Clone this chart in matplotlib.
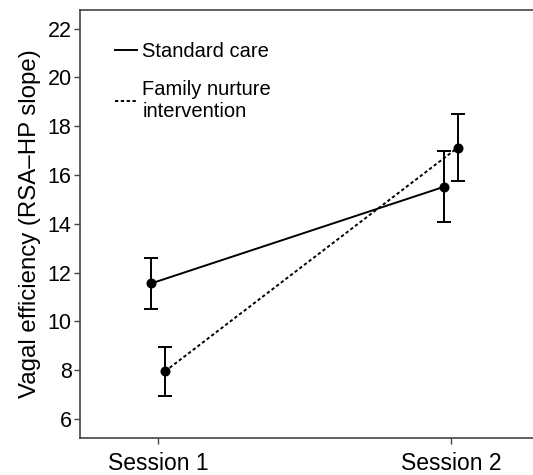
import matplotlib
matplotlib.use("Agg")
import matplotlib.pyplot as plt
from matplotlib.lines import Line2D

plt.rcParams['font.family'] = ['Liberation Sans', 'DejaVu Sans']

sessions = ["Session 1", "Session 2"]
standard_mean = [11.55, 15.51]
standard_err = [1.05, 1.46]
family_mean = [7.95, 17.12]
family_err = [1.0, 1.38]
yticks = [6, 8, 10, 12, 14, 16, 18, 20, 22]

fig = plt.figure(figsize=(5.33, 4.75), dpi=100)
ax = fig.add_axes([0.150, 0.077, 0.855, 0.903])

x = [1, 2]
off = 0.024
xs = [v - off for v in x]
xf = [v + off for v in x]

lw = 1.4
dash = (0, (1.7, 1.3))
ax.errorbar(xs, standard_mean, yerr=standard_err, color='black', lw=lw, ls='-',
            marker='o', ms=6.2, capsize=5, capthick=lw, elinewidth=lw, zorder=3)
ax.errorbar(xf, family_mean, yerr=family_err, color='black', lw=lw, ls=dash,
            marker='o', ms=6.2, capsize=5, capthick=lw, elinewidth=lw, zorder=3)

ax.set_xlim(0.7335, 2.290)
ax.set_ylim(5.2, 22.78)
ax.set_xticks(x)
ax.set_xticklabels(sessions)
ax.set_yticks(yticks)
ax.tick_params(axis='y', labelsize=15.5, length=4, width=1, color='#444444', pad=2)
ax.tick_params(axis='x', labelsize=16.5, length=4, width=1, color='#444444', pad=6)
for s in ['left', 'bottom', 'top']:
    ax.spines[s].set_color('#444444')
    ax.spines[s].set_linewidth(1.2)
ax.spines['right'].set_visible(False)

ax.set_ylabel("Vagal efficiency (RSA\u2013HP slope)", fontsize=17.3, labelpad=5)

handles = [Line2D([], [], color='black', lw=lw, ls='-'),
           Line2D([], [], color='black', lw=lw, ls=dash)]
ax.legend(handles, ["Standard care", "Family nurture\nintervention"], loc='upper left',
          bbox_to_anchor=(0.077, 0.925), frameon=False, fontsize=14.5, handlelength=1.1,
          handletextpad=0.25, labelspacing=0.95, borderaxespad=0, borderpad=0)

fig.savefig("out.png", dpi=100)
